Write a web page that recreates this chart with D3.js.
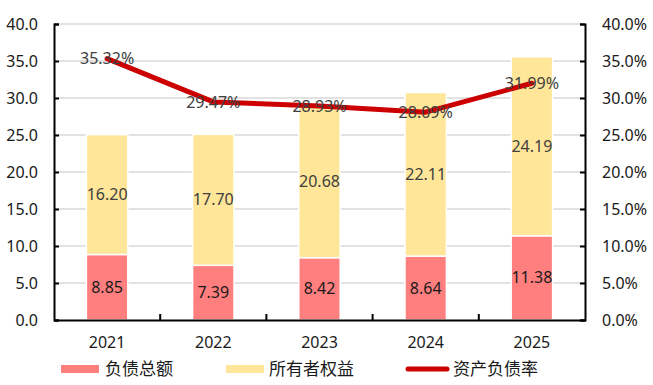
<!DOCTYPE html>
<meta charset="utf-8">
<script src="https://d3js.org/d3.v7.js"></script>
<style>
  body { margin: 0; background: #fff; }
  text { font-family: "Noto Sans", "Noto Sans CJK SC", sans-serif; }
</style>
<div id="my_dataviz"></div>
<script>

// data
var years = ["2021", "2022", "2023", "2024", "2025"];
var debt = [8.85, 7.39, 8.42, 8.64, 11.38];        // 负债总额
var equity = [16.20, 17.70, 20.68, 22.11, 24.19];  // 所有者权益
var ratio = [35.32, 29.47, 28.93, 28.09, 31.99];   // 资产负债率 (%)
var leftTicks = [0, 5, 10, 15, 20, 25, 30, 35, 40];
var rightTicks = [0, 5, 10, 15, 20, 25, 30, 35, 40];

var margin = {top: 24, right: 68, bottom: 65, left: 54},
    width = 653 - margin.left - margin.right,
    height = 385 - margin.top - margin.bottom;

var svg = d3.select("#my_dataviz")
  .append("svg")
    .attr("width", 653)
    .attr("height", 385)
  .append("g")
    .attr("transform", "translate(" + margin.left + "," + margin.top + ")");

var x = d3.scaleBand().domain(years).range([0, width]).paddingInner(0.61).paddingOuter(0.305);
var y = d3.scaleLinear().domain([0, 40]).range([height, 0]);
var y2 = d3.scaleLinear().domain([0, 40]).range([height, 0]);

// gridlines
svg.append("g")
  .selectAll("line")
  .data(leftTicks.filter(function (d) { return d > 0; }))
  .enter()
  .append("line")
    .attr("x1", 0).attr("x2", width)
    .attr("y1", function (d) { return y(d); })
    .attr("y2", function (d) { return y(d); })
    .style("stroke", "#d9d9d9")
    .style("stroke-width", 1.5);

// stacked bars
var rows = years.map(function (yr, i) { return {year: yr, debt: debt[i], equity: equity[i]}; });
var stack = d3.stack().keys(["debt", "equity"])(rows);
var colors = {debt: "#ff7f7f", equity: "#ffe699"};

svg.append("g")
  .selectAll("g")
  .data(stack)
  .enter()
  .append("g")
    .style("fill", function (d) { return colors[d.key]; })
  .selectAll("rect")
  .data(function (d) { return d; })
  .enter()
  .append("rect")
    .attr("x", function (d) { return x(d.data.year); })
    .attr("y", function (d) { return y(d[1]); })
    .attr("width", x.bandwidth())
    .attr("height", function (d) { return y(d[0]) - y(d[1]); })
    .style("stroke", "#fff")
    .style("stroke-width", 1.5);

// bar labels
stack.forEach(function (s) {
  svg.append("g")
    .selectAll("text")
    .data(s)
    .enter()
    .append("text")
      .attr("x", function (d) { return x(d.data.year) + x.bandwidth() / 2; })
      .attr("y", function (d) { return (y(d[0]) + y(d[1])) / 2; })
      .attr("dy", "0.35em")
      .attr("text-anchor", "middle")
      .style("font-size", "16px")
      .style("fill", s.key === "debt" ? "#1a1a1a" : "#404040")
      .text(function (d) { return (d[1] - d[0]).toFixed(2); });
});

// ratio line
var line = d3.line()
  .x(function (d, i) { return x(years[i]) + x.bandwidth() / 2; })
  .y(function (d) { return y2(d); });

svg.append("path")
  .datum(ratio)
  .attr("d", line)
  .style("fill", "none")
  .style("stroke", "#cc0000")
  .style("stroke-width", 5)
  .style("stroke-linejoin", "round")
  .style("stroke-linecap", "round");

svg.append("g")
  .selectAll("text")
  .data(ratio)
  .enter()
  .append("text")
    .attr("x", function (d, i) { return x(years[i]) + x.bandwidth() / 2; })
    .attr("y", function (d) { return y2(d); })
    .attr("dy", "0.35em")
    .attr("text-anchor", "middle")
    .style("font-size", "16px")
    .style("fill", "#404040")
    .text(function (d) { return d.toFixed(2) + "%"; });

// axes
var yAxis = svg.append("g")
  .call(d3.axisLeft(y).tickValues(leftTicks).tickFormat(d3.format(".1f")).tickSize(-5).tickPadding(16));
var y2Axis = svg.append("g")
  .attr("transform", "translate(" + width + ",0)")
  .call(d3.axisRight(y2).tickValues(rightTicks).tickFormat(function (d) { return d.toFixed(1) + "%"; }).tickSize(-5).tickPadding(17));

// x axis with ticks between categories
var xAxis = svg.append("g")
  .attr("transform", "translate(0," + height + ")")
  .call(d3.axisBottom(x).tickSize(0).tickPadding(17));
xAxis.selectAll(".boundary")
  .data(years.slice(1))
  .enter()
  .append("line")
    .attr("x1", function (d) { return x(d) - x.step() * x.paddingInner() / 2 - 0; })
    .attr("x2", function (d) { return x(d) - x.step() * x.paddingInner() / 2 - 0; })
    .attr("y1", 0).attr("y2", -6)
    .style("stroke", "#000")
    .style("stroke-width", 2);

[yAxis, y2Axis, xAxis].forEach(function (a) {
  a.select(".domain").style("stroke", "#000").style("stroke-width", 2);
  a.selectAll(".tick line").style("stroke", "#000").style("stroke-width", 2);
  a.selectAll("text")
    .style("font-size", "16px")
    .style("fill", "#1a1a1a")
    .style("font-family", "'Noto Sans', sans-serif");
});

// legend
var legend = svg.append("g").attr("transform", "translate(" + (-margin.left) + "," + (-margin.top) + ")");
legend.append("rect").attr("x", 61).attr("y", 365).attr("width", 38).attr("height", 8).style("fill", colors.debt);
legend.append("text").attr("x", 105).attr("y", 369).attr("dy", "0.35em").text("负债总额");
legend.append("rect").attr("x", 226).attr("y", 365).attr("width", 38).attr("height", 8).style("fill", colors.equity);
legend.append("text").attr("x", 269).attr("y", 369).attr("dy", "0.35em").text("所有者权益");
legend.append("line").attr("x1", 408).attr("x2", 447).attr("y1", 369).attr("y2", 369)
  .style("stroke", "#cc0000").style("stroke-width", 5).style("stroke-linecap", "round");
legend.append("text").attr("x", 453).attr("y", 369).attr("dy", "0.35em").text("资产负债率");
legend.selectAll("text")
  .style("font-size", "17px")
  .style("fill", "#1a1a1a")
  .style("font-family", "'Noto Sans CJK SC', sans-serif");

</script>
